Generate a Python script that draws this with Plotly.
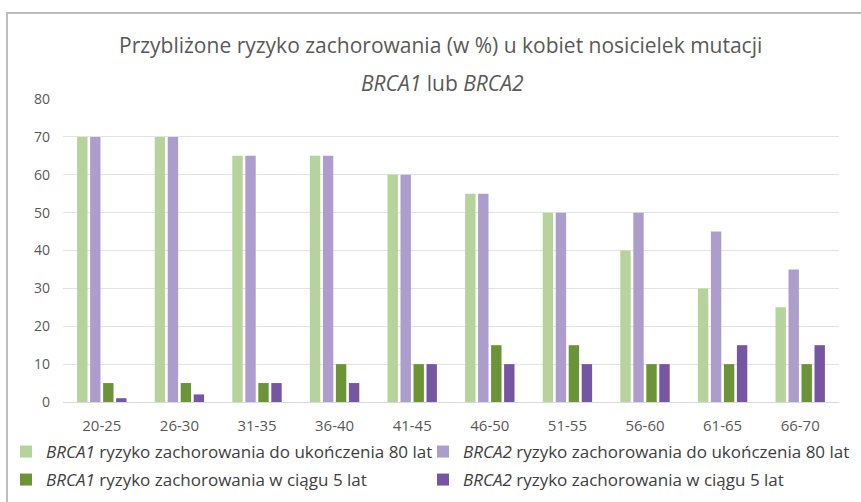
import plotly.graph_objects as go

# age groups and approximate risk values (%)
age_groups = ["20-25", "26-30", "31-35", "36-40", "41-45", "46-50", "51-55", "56-60", "61-65", "66-70"]
brca1_to_80 = [70, 70, 65, 65, 60, 55, 50, 40, 30, 25]
brca2_to_80 = [70, 70, 65, 65, 60, 55, 50, 50, 45, 35]
brca1_5yr = [5, 5, 5, 10, 10, 15, 15, 10, 10, 10]
brca2_5yr = [1, 2, 5, 5, 10, 10, 10, 10, 15, 15]

series_names = [
    "<i>BRCA1</i> ryzyko zachorowania do ukończenia 80 lat",
    "<i>BRCA2</i> ryzyko zachorowania do ukończenia 80 lat",
    "<i>BRCA1</i> ryzyko zachorowania w ciągu 5 lat",
    "<i>BRCA2</i> ryzyko zachorowania w ciągu 5 lat",
]
series_colors = ["#b5d39a", "#ad9dcc", "#6a9437", "#7655a3"]
# one legend per series so the 2x2 legend grid can be placed freely
series_legends = ["legend", "legend2", "legend3", "legend4"]

FONT = "Open Sans"
TEXT = "#595959"

fig = go.Figure()
for name, values, color, lg in zip(series_names, [brca1_to_80, brca2_to_80, brca1_5yr, brca2_5yr],
                                   series_colors, series_legends):
    fig.add_trace(go.Bar(x=age_groups, y=values, name=name, marker_color=color,
                         marker_line_width=0, legend=lg, showlegend=True))

# outer frame of the chart box
fig.add_shape(type="rect", xref="paper", yref="paper", x0=-0.0722, x1=1.03, y0=-0.4, y1=1.2838,
              line=dict(color="#bdbdbd", width=2), fillcolor="rgba(0,0,0,0)", layer="below")


def legend_at(x_px, y_px):
    return dict(
        orientation="h", xref="container", yref="container",
        x=x_px / 861, y=1 - y_px / 502, xanchor="left", yanchor="middle",
        font=dict(size=17, color="#404040", family=FONT), itemwidth=30,
        bgcolor="rgba(0,0,0,0)",
    )


fig.update_layout(
    width=861,
    height=502,
    showlegend=True,
    margin=dict(l=63, r=22, t=99, b=100, autoexpand=False),
    paper_bgcolor="white",
    plot_bgcolor="white",
    barmode="group",
    bargap=0.33,
    bargroupgap=0.2,
    font=dict(family=FONT, color=TEXT),
    annotations=[
        dict(text="Przybliżone ryzyko zachorowania (w %) u kobiet nosicielek mutacji",
             xref="paper", yref="paper", x=(440 - 63) / 776, y=(402 - 45) / 303,
             xanchor="center", yanchor="middle", showarrow=False,
             font=dict(size=21, color=TEXT, family=FONT)),
        dict(text="<i>BRCA1</i> lub <i>BRCA2</i>",
             xref="paper", yref="paper", x=(442 - 63) / 776, y=(402 - 83) / 303,
             xanchor="center", yanchor="middle", showarrow=False,
             font=dict(size=21, color=TEXT, family=FONT)),
    ],
    legend=legend_at(6, 452),
    legend2=legend_at(423, 452),
    legend3=legend_at(6, 480),
    legend4=legend_at(423, 480),
    xaxis=dict(
        showgrid=False, showline=True, linecolor="#d9d9d9", linewidth=1, automargin=False,
        tickfont=dict(size=15, color=TEXT), ticklabelstandoff=10,
    ),
    yaxis=dict(
        range=[0, 80], dtick=10, showgrid=True, gridcolor="#e6e2e2", gridwidth=1, automargin=False,
        zeroline=False, tickfont=dict(size=14, color=TEXT), ticklabelstandoff=12,
    ),
)

# drop the default page margin so the figure fills the window exactly
fig.write_html("out.html", config={"displayModeBar": False},
               post_script="document.body.style.margin = '0';")
